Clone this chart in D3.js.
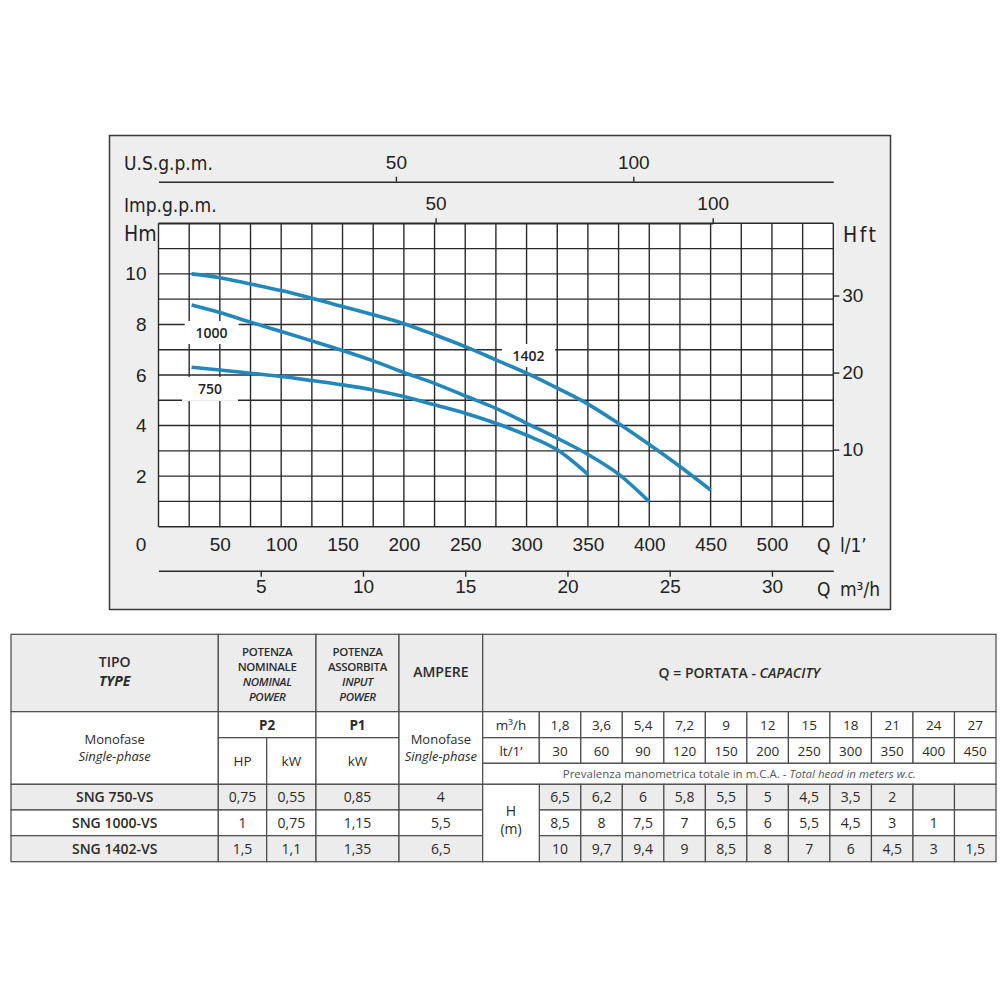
<!DOCTYPE html>
<html>
<head>
<meta charset="utf-8">
<script src="https://cdn.jsdelivr.net/npm/d3@7"></script>
<style>
  body { margin: 0; background: #fff; }
  svg { display: block; }
  .cf { font-family: "Liberation Sans Narrow", "DejaVu Sans Condensed", "DejaVu Sans", sans-serif; }
  .tb { font-family: "Open Sans", sans-serif; font-stretch: normal; }
</style>
</head>
<body>
<script>
// curve readings: flow in l/min -> head in m
const qPoints = [27, 50, 75, 100, 125, 150, 175, 200, 225, 250, 275, 300, 325, 350, 375, 400, 425, 450];
const h750  = [6.31, 6.2, 6.07, 5.94, 5.78, 5.61, 5.41, 5.15, 4.82, 4.49, 4.09, 3.62, 3.04, 2.07];
const h1000 = [8.77, 8.47, 8.09, 7.72, 7.35, 6.97, 6.56, 6.1, 5.67, 5.17, 4.68, 4.09, 3.5, 2.86, 2.08, 0.99];
const h1402 = [10.0, 9.85, 9.6, 9.34, 9.04, 8.71, 8.38, 8.03, 7.59, 7.12, 6.6, 6.07, 5.48, 4.85, 4.08, 3.25, 2.38, 1.45];
const curveNames = ["750", "1000", "1402"];

// axis ticks
const lpmTicks = [0, 50, 100, 150, 200, 250, 300, 350, 400, 450, 500];
const m3hTicks = [5, 10, 15, 20, 25, 30];
const usTicks = [50, 100];
const impTicks = [50, 100];
const hmTicks = [2, 4, 6, 8, 10];
const hftTicks = [10, 20, 30];

// table
const models   = ["SNG 750-VS", "SNG 1000-VS", "SNG 1402-VS"];
const powerHP  = ["0,75", "1", "1,5"];
const powerKW  = ["0,55", "0,75", "1,1"];
const inputKW  = ["0,85", "1,15", "1,35"];
const amperes  = ["4", "5,5", "6,5"];
const flowM3h  = ["1,8", "3,6", "5,4", "7,2", "9", "12", "15", "18", "21", "24", "27"];
const flowLt   = ["30", "60", "90", "120", "150", "200", "250", "300", "350", "400", "450"];
const head750  = ["6,5", "6,2", "6", "5,8", "5,5", "5", "4,5", "3,5", "2", "", ""];
const head1000 = ["8,5", "8", "7,5", "7", "6,5", "6", "5,5", "4,5", "3", "1", ""];
const head1402 = ["10", "9,7", "9,4", "9", "8,5", "8", "7", "6", "4,5", "3", "1,5"];

const svg = d3.select("body").append("svg")
  .attr("width", 1000)
  .attr("height", 1000);

// ---------- chart ----------
const x = d3.scaleLinear().domain([0, 550]).range([158.5, 833.3]);
const y = d3.scaleLinear().domain([0, 12]).range([526.7, 223.3]);
const yFt = d3.scaleLinear().domain([0, 12 / 0.3048]).range(y.range());
const xM3 = d3.scaleLinear().domain([0, 33]).range(x.range());
const usBase = d3.scaleLinear().domain([0, 100]).range([158.5, 633.3]);
const xUS = d3.scaleLinear().domain([0, usBase.invert(833.3)]).range(x.range());
const xImp = d3.scaleLinear().domain([0, 100]).range([158.5, 712.7]);

const chart = svg.append("g").attr("class", "cf");

chart.append("rect")
  .attr("x", 109.5).attr("y", 135.5)
  .attr("width", 781).attr("height", 474)
  .attr("fill", "#eeeeee")
  .attr("stroke", "#3a3a3a")
  .attr("stroke-width", 1.5);

chart.append("rect")
  .attr("x", x(0)).attr("y", y(12))
  .attr("width", x(550) - x(0)).attr("height", y(0) - y(12))
  .attr("fill", "#fff");

const grid = chart.append("g")
  .attr("stroke", "#2a2a2a")
  .attr("stroke-width", 1.4);
grid.selectAll(".gv").data(d3.range(0, 551, 25)).join("line")
  .attr("x1", d => x(d)).attr("x2", d => x(d))
  .attr("y1", y(0)).attr("y2", y(12));
grid.selectAll(".gh").data(d3.range(0, 13, 1)).join("line")
  .attr("x1", x(0)).attr("x2", x(550))
  .attr("y1", d => y(d)).attr("y2", d => y(d));

// white boxes behind curve names
const tags = [
  { name: "1000", q: 43.3, h: 7.68, w: 54, hgt: 23 },
  { name: "750", q: 42, h: 5.45, w: 56, hgt: 24 },
  { name: "1402", q: 301.6, h: 6.77, w: 53, hgt: 23 }
];
chart.selectAll(".tagbox").data(tags).join("rect")
  .attr("x", d => x(d.q) - d.w / 2)
  .attr("y", d => y(d.h) - d.hgt / 2)
  .attr("width", d => d.w)
  .attr("height", d => d.hgt)
  .attr("fill", "#fff");

const series = [h750, h1000, h1402].map((hs, i) => ({
  name: curveNames[i],
  pts: hs.map((h, j) => [qPoints[j], h])
}));
const line = d3.line()
  .x(d => x(d[0]))
  .y(d => y(d[1]))
  .curve(d3.curveMonotoneX);
chart.selectAll(".curve").data(series).join("path")
  .attr("d", d => line(d.pts))
  .attr("fill", "none")
  .attr("stroke", "#2288bb")
  .attr("stroke-width", 3.6);

chart.selectAll(".tagtxt").data(tags).join("text")
  .attr("class", "tb")
  .attr("x", d => x(d.q))
  .attr("y", d => y(d.h) + 5)
  .attr("text-anchor", "middle")
  .attr("font-size", 14)
  .attr("font-weight", 600)
  .attr("fill", "#222")
  .text(d => d.name);

function styleAxis(g) {
  g.selectAll("text").attr("font-size", 19).attr("fill", "#222")
    .attr("font-family", null);
  g.selectAll("line").attr("stroke", "#2a2a2a").attr("stroke-width", 1.4);
  g.select(".domain").attr("stroke", "#2a2a2a").attr("stroke-width", 1.5);
}

// left Hm
chart.append("g")
  .attr("transform", `translate(${x(0)},0)`)
  .call(d3.axisLeft(y).tickValues(hmTicks).tickSize(0).tickPadding(12))
  .call(styleAxis)
  .call(g => g.select(".domain").remove());

// right Hft
chart.append("g")
  .attr("transform", `translate(${x(550)},0)`)
  .call(d3.axisRight(yFt).tickValues(hftTicks).tickSize(6).tickPadding(3))
  .call(styleAxis)
  .call(g => g.select(".domain").remove());

// bottom l/min
chart.append("g")
  .attr("transform", `translate(0,${y(0)})`)
  .call(d3.axisBottom(x).tickValues(lpmTicks).tickSize(0).tickPadding(11))
  .call(styleAxis)
  .call(g => g.select(".domain").remove())
  .call(g => g.selectAll(".tick").filter(d => d === 0).select("text").attr("x", -18));

// bottom m3/h
chart.append("g")
  .attr("transform", "translate(0,570.7)")
  .call(d3.axisBottom(xM3).tickValues(m3hTicks).tickSize(6).tickSizeOuter(0).tickPadding(3))
  .call(styleAxis);

// top US gpm
chart.append("g")
  .attr("transform", "translate(0,181.7)")
  .call(d3.axisTop(xUS).tickValues(usTicks).tickSize(5).tickSizeOuter(0).tickPadding(8))
  .call(styleAxis);

// top Imp gpm
chart.append("g")
  .attr("transform", `translate(0,${y(12)})`)
  .call(d3.axisTop(xImp).tickValues(impTicks).tickSize(5).tickSizeOuter(0).tickPadding(8))
  .call(styleAxis);

const axisLabels = [
  { t: "U.S.g.p.m.", x: 124, y: 169.5 },
  { t: "Imp.g.p.m.", x: 124, y: 211.7 },
  { t: "Hm", x: 124, y: 241 },
  { t: "Hft", x: 843, y: 241.5, ls: 2.5 },
  { t: "Q l/1\u2019", x: 817, y: 551.5, ws: 4 },
  { t: "Q m\u00b3/h", x: 817, y: 596, ws: 4 }
];
chart.selectAll(".alab").data(axisLabels).join("text")
  .attr("x", d => d.x).attr("y", d => d.y)
  .attr("font-size", d => d.t === "Hm" || d.t === "Hft" ? 21 : 19)
  .attr("letter-spacing", d => d.ls || 0)
  .attr("word-spacing", d => d.ws || 0)
  .attr("fill", "#222")
  .text(d => d.t);

// ---------- table ----------
const tbl = svg.append("g").attr("class", "tb");
const colX = [11, 218.3, 266.7, 316, 399, 482.7, 539.3];
const rowY = [634.3, 711.7, 737.7, 763.3, 784.3, 810, 835.7, 861.7];
const qBand = d3.scaleBand().domain(d3.range(flowLt.length)).range([539.3, 996]);
const grey = "#ececec";
const ink = "#2b2b2b";

const cells = [];
function cell(x0, x1, y0, y1, fill, lines) {
  cells.push({ x0, x1, y0, y1, fill, lines: lines || [] });
}
// header row
cell(colX[0], colX[1], rowY[0], rowY[1], grey, [
  { t: "TIPO", w: 600, s: 14, dy: -6 }, { t: "TYPE", w: 700, s: 14, it: true, dy: 13 }]);
cell(colX[1], colX[3], rowY[0], rowY[1], grey, [
  { t: "POTENZA", w: 600, s: 11.5, dy: -17.5, n: true }, { t: "NOMINALE", w: 600, s: 11.5, dy: -2.5, n: true },
  { t: "NOMINAL", w: 600, s: 11.5, it: true, dy: 12.5, n: true }, { t: "POWER", w: 600, s: 11.5, it: true, dy: 28, n: true }]);
cell(colX[3], colX[4], rowY[0], rowY[1], grey, [
  { t: "POTENZA", w: 600, s: 11.5, dy: -17.5, n: true }, { t: "ASSORBITA", w: 600, s: 11.5, dy: -2.5, n: true },
  { t: "INPUT", w: 600, s: 11.5, it: true, dy: 12.5, n: true }, { t: "POWER", w: 600, s: 11.5, it: true, dy: 28, n: true }]);
cell(colX[4], colX[5], rowY[0], rowY[1], grey, [{ t: "AMPERE", w: 600, s: 14, dy: 4 }]);
cell(colX[5], 996, rowY[0], rowY[1], grey, [{ rich: true, dy: 5 }]);
// second block
cell(colX[0], colX[1], rowY[1], rowY[4], "#fff", [
  { t: "Monofase", w: 400, s: 13, dy: -4 }, { t: "Single-phase", w: 400, s: 13, it: true, dy: 13 }]);
cell(colX[1], colX[3], rowY[1], rowY[2], "#fff", [{ t: "P2", w: 700, s: 13.5, dy: 5 }]);
cell(colX[3], colX[4], rowY[1], rowY[2], "#fff", [{ t: "P1", w: 700, s: 13.5, dy: 5 }]);
cell(colX[1], colX[2], rowY[2], rowY[4], "#fff", [{ t: "HP", w: 400, s: 13.5, dy: 5 }]);
cell(colX[2], colX[3], rowY[2], rowY[4], "#fff", [{ t: "kW", w: 400, s: 13.5, dy: 5 }]);
cell(colX[3], colX[4], rowY[2], rowY[4], "#fff", [{ t: "kW", w: 400, s: 13.5, dy: 5 }]);
cell(colX[4], colX[5], rowY[1], rowY[4], "#fff", [
  { t: "Monofase", w: 400, s: 13, dy: -4 }, { t: "Single-phase", w: 400, s: 13, it: true, dy: 13 }]);
cell(colX[5], colX[6], rowY[1], rowY[2], "#fff", [{ t: "m\u00b3/h", w: 400, s: 13.5, dy: 5 }]);
cell(colX[5], colX[6], rowY[2], rowY[3], "#fff", [{ t: "lt/1\u2019", w: 400, s: 13.5, dy: 5 }]);
flowM3h.forEach((v, i) => cell(qBand(i), qBand(i) + qBand.bandwidth(), rowY[1], rowY[2], "#fff",
  [{ t: v, w: 400, s: 13.5, dy: 5 }]));
flowLt.forEach((v, i) => cell(qBand(i), qBand(i) + qBand.bandwidth(), rowY[2], rowY[3], "#fff",
  [{ t: v, w: 400, s: 13.5, dy: 5 }]));
cell(colX[5], 996, rowY[3], rowY[4], "#fff", [{ prev: true, dy: 4 }]);
// model rows
const heads = [head750, head1000, head1402];
models.forEach((m, r) => {
  const y0 = rowY[4 + r], y1 = rowY[5 + r];
  const fill = r === 1 ? "#fff" : grey;
  cell(colX[0], colX[1], y0, y1, fill, [{ t: m, w: 600, s: 14, dy: 5 }]);
  cell(colX[1], colX[2], y0, y1, fill, [{ t: powerHP[r], w: 400, s: 14, dy: 5 }]);
  cell(colX[2], colX[3], y0, y1, fill, [{ t: powerKW[r], w: 400, s: 14, dy: 5 }]);
  cell(colX[3], colX[4], y0, y1, fill, [{ t: inputKW[r], w: 400, s: 14, dy: 5 }]);
  cell(colX[4], colX[5], y0, y1, fill, [{ t: amperes[r], w: 400, s: 14, dy: 5 }]);
  heads[r].forEach((v, i) => cell(qBand(i), qBand(i) + qBand.bandwidth(), y0, y1, fill,
    [{ t: v, w: 400, s: 14, dy: 5 }]));
});
cell(colX[5], colX[6], rowY[4], rowY[7], "#fff", [
  { t: "H", w: 400, s: 14, dy: -7 }, { t: "(m)", w: 400, s: 14, dy: 11 }]);

const cg = tbl.selectAll(".cell").data(cells).join("g");
cg.append("rect")
  .attr("x", d => d.x0).attr("y", d => d.y0)
  .attr("width", d => d.x1 - d.x0).attr("height", d => d.y1 - d.y0)
  .attr("fill", d => d.fill)
  .attr("stroke", "#4a4a4a")
  .attr("stroke-width", 1.2);

cg.each(function(d) {
  const g = d3.select(this);
  const cx = (d.x0 + d.x1) / 2, cy = (d.y0 + d.y1) / 2;
  d.lines.forEach(l => {
    const t = g.append("text")
      .attr("x", cx).attr("y", cy + l.dy)
      .attr("text-anchor", "middle")
      .attr("fill", ink);
    if (l.rich) {
      t.attr("font-size", 14).attr("font-weight", 600);
      t.append("tspan").text("Q = PORTATA - ");
      t.append("tspan").attr("font-style", "italic").text("CAPACITY");
    } else if (l.prev) {
      t.attr("font-size", 11.5).attr("fill", "#555");
      t.append("tspan").text("Prevalenza manometrica totale in m.C.A. - ");
      t.append("tspan").attr("font-style", "italic").text("Total head in meters w.c.");
    } else {
      t.attr("font-size", l.s)
        .attr("font-weight", l.w)
        .attr("font-style", l.it ? "italic" : null)
        .attr("letter-spacing", l.n ? -0.3 : null)
        .text(l.t);
    }
  });
});
</script>
</body>
</html>
